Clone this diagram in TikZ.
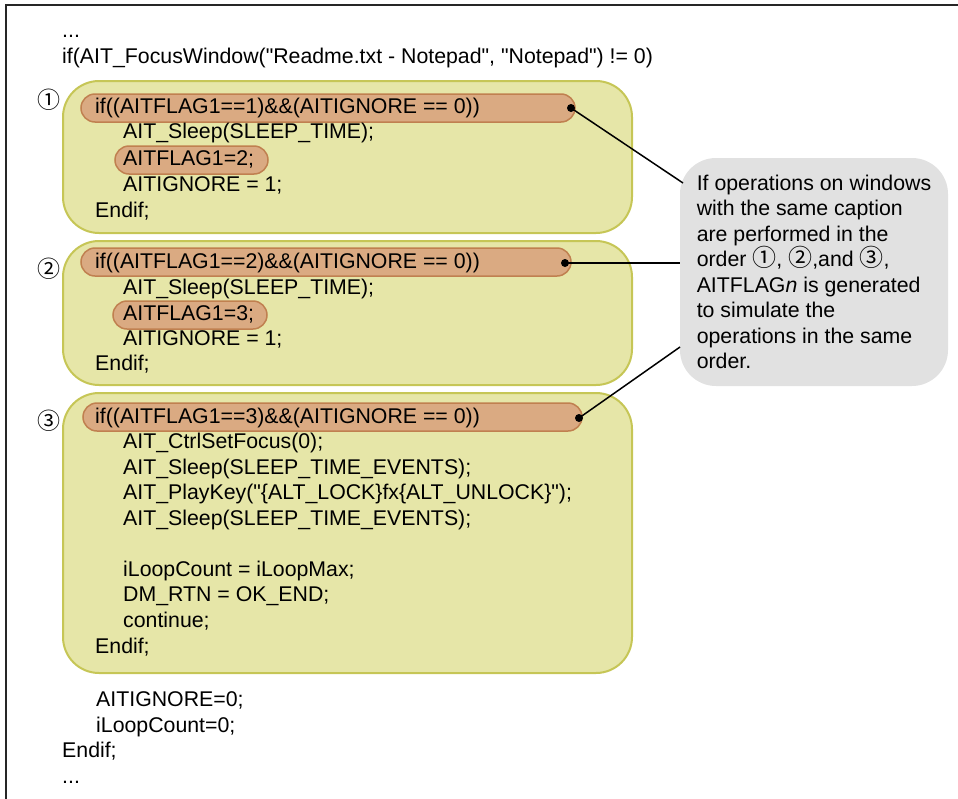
\documentclass[tikz,border=0pt]{standalone}
\usepackage{fontspec}
\setmainfont{Liberation Sans}
\newfontfamily\circfont{Noto Sans CJK JP}
\usetikzlibrary{calc}
\definecolor{blockfill}{RGB}{230,230,168}
\definecolor{blockline}{RGB}{198,198,86}
\definecolor{pillfill}{RGB}{218,170,130}
\definecolor{pillline}{RGB}{192,128,80}
\definecolor{notefill}{RGB}{225,225,225}
% straight double quote and circled digit
\newcommand\dq{\textquotedbl}
\newcommand\circd[1]{\smash{\circfont\fontsize{24}{24}\selectfont #1}}
\begin{document}
\begin{tikzpicture}[x=1pt,y=-1pt,
  every node/.style={font=\fontsize{21.3}{25.5}\selectfont},
  code/.style={anchor=base west, inner sep=0pt},
  block/.style={draw=blockline, fill=blockfill, line width=2pt,
    rounded corners=36pt, minimum width=569pt, inner sep=0pt},
  pill/.style={draw=pillline, fill=pillfill, line width=1.5pt,
    rounded corners=14pt, minimum height=28pt, inner sep=0pt},
  num/.style={inner sep=0pt, font=\circfont\fontsize{23}{23}\selectfont},
  enddot/.style={circle, fill=black, inner sep=0pt, minimum size=8pt},
  leader/.style={line width=1.5pt}
]
\useasboundingbox (0,0) rectangle (958,798);

% outer frame (only the left and top edges fall on the page)
\draw[line width=1.6pt, black!85] (6,820) -- (6,5) -- (980,5);

% opening lines
\node[code] (top0) at (62,37) {...};
\node[code] (top1) at (62,63) {if(AIT\_FocusWindow(\dq Readme.txt - Notepad\dq, \dq Notepad\dq) != 0)};

% the three blocks
\node[block, minimum height=152pt] (b1) at (347.5,157) {};
\node[block, minimum height=144pt] (b2) at (347.5,313) {};
\node[block, minimum height=280pt] (b3) at (347.5,533) {};

% highlighted conditions and flag assignments
\node[pill, minimum width=494pt] (p1a) at (328,108) {};
\node[pill, minimum width=153pt] (p1b) at (191.5,160) {};
\node[pill, minimum width=490pt] (p2a) at (326,262) {};
\node[pill, minimum width=154pt] (p2b) at (190,315) {};
\node[pill, minimum width=499pt] (p3a) at (332.5,417) {};

% block numbers
\node[num] (n1) at (49,100) {①};
\node[num] (n2) at (49,269) {②};
\node[num] (n3) at (49,421) {③};

% block 1
\node[code] (t1a) at (95,113) {if((AITFLAG1==1)\&\&(AITIGNORE == 0))};
\node[code] (t1b) at (123,138.5) {AIT\_Sleep(SLEEP\_TIME);};
\node[code] (t1c) at (123,165) {AITFLAG1=2;};
\node[code] (t1d) at (123,191) {AITIGNORE = 1;};
\node[code] (t1e) at (95,217) {Endif;};

% block 2
\node[code] (t2a) at (95,268) {if((AITFLAG1==2)\&\&(AITIGNORE == 0))};
\node[code] (t2b) at (123,294) {AIT\_Sleep(SLEEP\_TIME);};
\node[code] (t2c) at (123,320) {AITFLAG1=3;};
\node[code] (t2d) at (123,345) {AITIGNORE = 1;};
\node[code] (t2e) at (95,370) {Endif;};

% block 3
\node[code] (t3a) at (95,423) {if((AITFLAG1==3)\&\&(AITIGNORE == 0))};
\node[code] (t3b) at (123,448.5) {AIT\_CtrlSetFocus(0);};
\node[code] (t3c) at (123,474) {AIT\_Sleep(SLEEP\_TIME\_EVENTS);};
\node[code] (t3d) at (123,499.5) {AIT\_PlayKey(\dq\{ALT\_LOCK\}fx\{ALT\_UNLOCK\}\dq);};
\node[code] (t3e) at (123,525) {AIT\_Sleep(SLEEP\_TIME\_EVENTS);};
\node[code] (t3f) at (123,576) {iLoopCount = iLoopMax;};
\node[code] (t3g) at (123,601.5) {DM\_RTN = OK\_END;};
\node[code] (t3h) at (123,627) {continue;};
\node[code] (t3i) at (95,653) {Endif;};

% closing lines
\node[code] (end1) at (96,706) {AITIGNORE=0;};
\node[code] (end2) at (96,732) {iLoopCount=0;};
\node[code] (end3) at (62,757) {Endif;};
\node[code] (end4) at (62,783) {...};

% explanatory note
\node[fill=notefill, rounded corners=36pt, minimum width=268pt,
  minimum height=228pt, inner sep=0pt, align=left] (note) at (814,272)
  {If operations on windows\\with the same caption\\are performed in the\\
   order \circd{①}, \circd{②},and \circd{③},\\
   AITFLAG\textit{n} is generated\\to simulate the\\operations in the same\\order.};

% leader lines from the conditions to the note
\node[enddot] (d1) at (571,108) {};
\node[enddot] (d2) at (565,263) {};
\node[enddot] (d3) at (579,418) {};
\coordinate (c1) at (683,183);
\coordinate (c2) at (680,263);
\coordinate (c3) at (680,347);
\draw[leader] (d1.center) -- (c1);
\draw[leader] (d2.center) -- (c2);
\draw[leader] (d3.center) -- (c3);
\end{tikzpicture}
\end{document}
